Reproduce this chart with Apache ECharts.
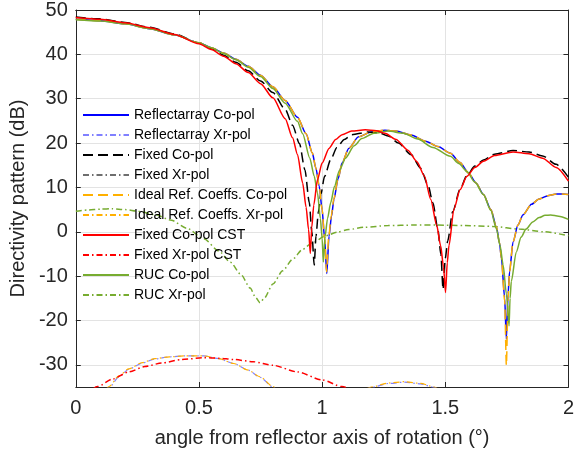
<!DOCTYPE html>
<html><head><meta charset="utf-8">
<script src="https://cdn.jsdelivr.net/npm/echarts@6/dist/echarts.min.js"></script>
<style>html,body{margin:0;padding:0;background:#fff}#c{width:577px;height:456px}</style>
</head><body><div id="c"></div>
<script>
const xTicks = [0, 0.5, 1, 1.5, 2];
const yTicks = [-30, -20, -10, 0, 10, 20, 30, 40, 50];
const seriesNames = ['Reflectarray Co-pol','Reflectarray Xr-pol','Fixed Co-pol','Fixed Xr-pol','Ideal Ref. Coeffs. Co-pol','Ideal Ref. Coeffs. Xr-pol','Fixed Co-pol CST','Fixed Xr-pol CST','RUC Co-pol','RUC Xr-pol'];

const raCo = [[0,47.9],[0.1,47.6],[0.2,46.9],[0.3,45.8],[0.4,44.4],[0.5,42.6],[0.55,41.5],[0.6,40.3],[0.65,38.9],[0.7,37.3],[0.75,35.3],[0.8,32.7],[0.85,29.6],[0.9,25.8],[0.935,22.1],[0.96,17.8],[0.975,14.3],[0.988,10.3],[1.0,5.0],[1.01,-1.5],[1.019,-9.4],[1.028,-1],[1.038,3.5],[1.048,7.3],[1.065,12.0],[1.081,15.5],[1.108,18.8],[1.148,21.4],[1.2,22.5],[1.255,22.9],[1.3,22.7],[1.361,21.8],[1.42,20.4],[1.47,19.2],[1.521,17.7],[1.56,15.6],[1.595,13.2],[1.625,11.0],[1.655,8.4],[1.685,5.0],[1.708,1.0],[1.72,-2.5],[1.728,-6.0],[1.741,-14.9],[1.748,-24.2],[1.755,-14],[1.761,-9.0],[1.775,-2.3],[1.795,1.5],[1.815,3.8],[1.85,6.2],[1.881,7.4],[1.92,8.2],[1.95,8.5],[1.975,8.5],[2.0,8.4]];
const raXr = [[0,-46],[0.08,-40],[0.135,-35.2],[0.175,-32.7],[0.215,-31.0],[0.27,-29.6],[0.321,-28.7],[0.38,-28.2],[0.441,-28.0],[0.52,-28.0],[0.58,-28.6],[0.641,-29.7],[0.7,-31.2],[0.748,-32.8],[0.8,-35.0],[0.85,-38],[0.95,-50],[1.05,-42],[1.2,-35.1],[1.27,-34.2],[1.335,-33.9],[1.4,-34.3],[1.455,-35.1],[1.55,-40],[1.75,-55],[1.9,-42],[2.0,-40]];
const fixCo = [[0,48.4],[0.1,48.0],[0.2,47.2],[0.3,46.1],[0.4,44.6],[0.5,42.6],[0.55,41.3],[0.6,39.8],[0.65,38.2],[0.7,36.3],[0.75,34.0],[0.8,31.4],[0.85,27.6],[0.88,24.0],[0.908,19.9],[0.93,14.0],[0.948,6.6],[0.958,0],[0.968,-7.5],[0.975,-1],[0.985,4.5],[0.995,8.5],[1.01,12.5],[1.035,16.3],[1.06,19.0],[1.09,20.8],[1.121,21.9],[1.188,22.5],[1.23,22.3],[1.268,21.6],[1.31,20.0],[1.361,17.4],[1.4,14.3],[1.43,10.5],[1.45,6.5],[1.47,0.5],[1.482,-5],[1.491,-13.0],[1.5,-6],[1.51,-2],[1.53,4.5],[1.56,9.6],[1.588,12.7],[1.62,14.8],[1.655,16.2],[1.7,17.5],[1.775,18.3],[1.84,18.0],[1.895,17.1],[1.95,15.2],[2.0,12.3]];
const fixXr = [[0,-52],[0.3,-48],[0.6,-45],[1.0,-50],[1.3,-46],[1.6,-49],[2.0,-52]];
const idCo = [[0,47.9],[0.1,47.6],[0.2,46.9],[0.3,45.8],[0.4,44.4],[0.5,42.6],[0.55,41.5],[0.6,40.3],[0.65,38.9],[0.7,37.3],[0.75,35.3],[0.8,32.7],[0.85,29.6],[0.9,25.8],[0.935,22.1],[0.96,17.8],[0.975,14.3],[0.988,10.3],[1.0,5.0],[1.01,-1.5],[1.018,-9.0],[1.027,-1],[1.037,3.5],[1.047,7.3],[1.065,12.0],[1.081,15.5],[1.108,18.8],[1.148,21.4],[1.2,22.5],[1.255,22.9],[1.3,22.7],[1.361,21.8],[1.42,20.4],[1.47,19.2],[1.521,17.7],[1.56,15.6],[1.595,13.2],[1.625,11.0],[1.655,8.4],[1.685,5.0],[1.708,1.0],[1.72,-2.5],[1.728,-6.0],[1.741,-15.5],[1.748,-30.1],[1.755,-15],[1.761,-9.0],[1.775,-2.3],[1.795,1.5],[1.815,3.8],[1.85,6.2],[1.881,7.4],[1.92,8.2],[1.95,8.5],[1.975,8.5],[2.0,8.4]];
const idXr = [[0,-45],[0.08,-40],[0.135,-34.9],[0.175,-32.5],[0.215,-30.9],[0.27,-29.5],[0.321,-28.6],[0.38,-28.2],[0.441,-28.0],[0.52,-28.0],[0.58,-28.6],[0.641,-29.7],[0.7,-31.2],[0.748,-32.7],[0.8,-34.9],[0.85,-38],[0.95,-50],[1.05,-42],[1.2,-35],[1.27,-34.1],[1.335,-33.8],[1.4,-34.2],[1.455,-35],[1.55,-40],[1.75,-55],[1.9,-42],[2.0,-40]];
const cstCo = [[0,48.3],[0.1,47.9],[0.2,47.1],[0.3,46.0],[0.4,44.5],[0.5,42.4],[0.55,41.1],[0.6,39.6],[0.65,37.9],[0.7,35.9],[0.75,33.4],[0.8,30.2],[0.85,25.5],[0.88,21.2],[0.9,17.4],[0.921,11.0],[0.935,5.5],[0.945,0.5],[0.952,-4.9],[0.958,1.0],[0.966,6.0],[0.981,11.7],[1.0,15.5],[1.028,18.8],[1.055,20.8],[1.081,21.9],[1.12,22.7],[1.175,23.0],[1.22,22.8],[1.255,22.2],[1.3,20.8],[1.348,18.4],[1.385,15.8],[1.415,12.6],[1.441,7.3],[1.465,1.5],[1.481,-3.1],[1.493,-8],[1.501,-13.7],[1.508,-7],[1.515,-3.1],[1.535,5.1],[1.56,9.5],[1.588,12.5],[1.62,14.5],[1.655,15.9],[1.7,17.2],[1.775,18.0],[1.84,17.6],[1.895,16.6],[1.95,14.5],[2.0,11.4]];
const cstXr = [[0,-40],[0.088,-34.9],[0.15,-33.2],[0.215,-31.6],[0.28,-30.4],[0.348,-29.6],[0.43,-28.8],[0.52,-28.4],[0.58,-28.5],[0.641,-28.8],[0.72,-29.3],[0.8,-30.1],[0.9,-31.6],[1.0,-33.4],[1.08,-34.9],[1.2,-38],[1.4,-42],[1.6,-45],[1.8,-44],[2.0,-42]];
const rucCo = [[0,47.8],[0.1,47.5],[0.2,46.9],[0.3,45.8],[0.4,44.4],[0.5,42.6],[0.55,41.5],[0.6,40.2],[0.65,38.8],[0.7,37.1],[0.75,35.0],[0.8,32.3],[0.85,29.0],[0.9,24.9],[0.921,22.1],[0.95,16.6],[0.968,12.5],[0.981,8.8],[0.993,3],[1.0,-1.5],[1.005,-6.8],[1.012,-1],[1.022,3],[1.035,6.6],[1.05,10.2],[1.07,13.8],[1.095,16.6],[1.13,19.4],[1.161,21.0],[1.21,22.2],[1.268,22.7],[1.33,22.2],[1.388,20.9],[1.45,19.0],[1.521,17.0],[1.555,15.4],[1.588,13.6],[1.62,11.2],[1.655,8.4],[1.685,4.8],[1.708,0.6],[1.722,-3.0],[1.735,-7.5],[1.748,-14],[1.759,-21.2],[1.763,-15],[1.768,-11.2],[1.788,-4.6],[1.808,-1.2],[1.828,0.6],[1.855,2.2],[1.881,3.2],[1.905,3.7],[1.928,3.8],[1.96,3.5],[2.0,2.8]];
const rucXr = [[0,4.6],[0.05,4.9],[0.1,5.1],[0.148,5.2],[0.2,5.0],[0.255,4.6],[0.32,3.9],[0.388,2.6],[0.45,0.8],[0.52,-1.6],[0.58,-4.3],[0.628,-6.9],[0.67,-9.6],[0.708,-12.7],[0.73,-14.8],[0.748,-16.0],[0.765,-15.0],[0.8,-11.8],[0.84,-8.8],[0.88,-6.2],[0.92,-4.0],[0.96,-2.5],[1.015,-0.9],[1.06,-0.1],[1.108,0.5],[1.17,1.0],[1.268,1.4],[1.37,1.5],[1.468,1.5],[1.58,1.4],[1.695,1.2],[1.8,0.6],[1.9,0],[2.0,-0.9]];

const seriesData = [raCo, raXr, fixCo, fixXr, idCo, idXr, cstCo, cstXr, rucCo, rucXr];
const seriesColors = ['#0000FF','#8080FF','#000000','#6E6E6E','#FFB000','#FFB000','#FF0000','#FF0000','#77AC30','#77AC30'];
const DASH = [10, 5], DOT = [6, 3, 1.5, 3];
const seriesDash = ['solid', DOT, DASH, DOT, DASH, DOT, 'solid', DOT, 'solid', DOT];
const seriesWidth = [1.5, 1.2, 1.5, 1.0, 1.5, 1.2, 1.5, 1.5, 1.5, 1.5];

const FONT = 'Liberation Sans, Arial, Helvetica, sans-serif';
const AX = '#262626';

const chart = echarts.init(document.getElementById('c'), null, {renderer: 'canvas'});
const common = {axisLine: {show: true, onZero: false, lineStyle: {color: AX, width: 1}}};
chart.setOption({
  animation: false,
  backgroundColor: '#fff',
  grid: {left: 73, right: 4, top: 5, bottom: 69, containLabel: false},
  legend: {
    orient: 'vertical', left: 77, top: 103, itemWidth: 46, itemHeight: 14, itemGap: 6,
    selectedMode: false,
    itemStyle: {opacity: 0},
    textStyle: {fontFamily: FONT, fontSize: 14, color: '#000', lineHeight: 14},
    data: seriesNames
  },
  xAxis: [
    Object.assign({type: 'value', min: 0, max: 2, interval: 0.5, position: 'bottom',
      name: 'angle from reflector axis of rotation (°)', nameLocation: 'middle', nameGap: 41,
      nameTextStyle: {fontFamily: FONT, fontSize: 20, color: AX},
      axisTick: {inside: true, length: 5, lineStyle: {color: AX}},
      axisLabel: {fontFamily: FONT, fontSize: 20, color: AX, margin: 11},
      splitLine: {show: true, lineStyle: {color: '#E3E3E3', width: 1}}}, common),
    Object.assign({type: 'value', min: 0, max: 2, interval: 0.5, position: 'top',
      axisTick: {inside: true, length: 5, lineStyle: {color: AX}},
      axisLabel: {show: false}, splitLine: {show: false}}, common)
  ],
  yAxis: [
    Object.assign({type: 'value', min: -35, max: 50, position: 'left',
      name: 'Directivity pattern (dB)', nameLocation: 'middle', nameGap: 45,
      nameTextStyle: {fontFamily: FONT, fontSize: 20, color: AX},
      axisTick: {inside: true, length: 5, customValues: yTicks, lineStyle: {color: AX}},
      axisLabel: {fontFamily: FONT, fontSize: 20, color: AX, margin: 8, customValues: yTicks},
      splitLine: {show: true, lineStyle: {color: '#E3E3E3', width: 1}}}, common),
    Object.assign({type: 'value', min: -35, max: 50, position: 'right',
      axisTick: {inside: true, length: 5, customValues: yTicks, lineStyle: {color: AX}},
      axisLabel: {show: false, customValues: yTicks}, splitLine: {show: false}}, common)
  ],
  series: seriesNames.map((n, i) => ({
    name: n, type: 'line', data: seriesData[i], xAxisIndex: 0, yAxisIndex: 0,
    symbol: 'none', showSymbol: false, clip: true, smooth: 0.25, smoothMonotone: 'x',
    color: seriesColors[i],
    lineStyle: {color: seriesColors[i], width: seriesWidth[i], type: seriesDash[i]},
    z: [2,2,3,2,3,2,5,2,4,2][i]
  }))
});
</script></body></html>
